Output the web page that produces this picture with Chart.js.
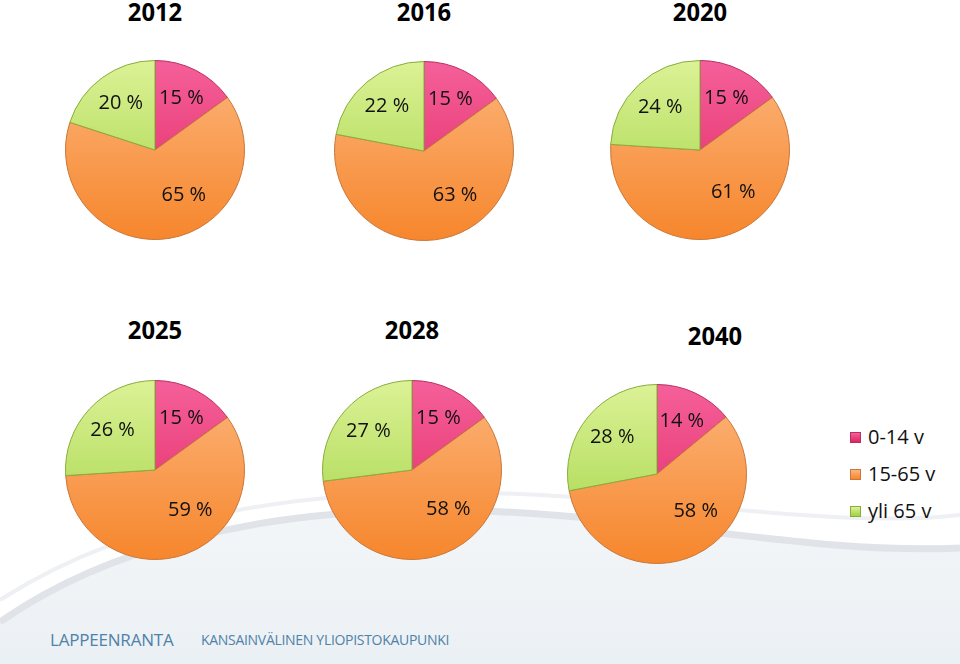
<!DOCTYPE html>
<html>
<head>
<meta charset="utf-8">
<script src="https://cdn.jsdelivr.net/npm/chart.js@4.4.1/dist/chart.umd.min.js"></script>
<style>
  body { margin: 0; width: 960px; height: 664px; overflow: hidden; background: #fff; position: relative; font-family: "Open Sans", sans-serif; }
  .bg { position: absolute; left: 0; top: 0; }
  .pie { position: absolute; width: 200px; height: 200px; }
  .year { position: absolute; width: 120px; margin-left: -60px; text-align: center; font-weight: 700; font-size: 25px; line-height: 25px; color: #000; transform: scaleX(0.95); }
  .legend { position: absolute; left: 850px; top: 423px; }
  .legend div { height: 37px; line-height: 28px; font-size: 20px; color: #111; white-space: nowrap; }
  .legend span { display: inline-block; width: 11px; height: 11px; margin-right: 7px; vertical-align: 1px; }
  .footer { position: absolute; top: 628px; color: #4f82a8; white-space: nowrap; }
</style>
</head>
<body>
<svg class="bg" width="960" height="664">
  <defs>
    <linearGradient id="band" x1="0" y1="0" x2="0" y2="1">
      <stop offset="0" stop-color="#f3f6f8"/>
      <stop offset="1" stop-color="#ebf0f4"/>
    </linearGradient>
  </defs>
  <path d="M0,622 C110,545 260,512 420,510 C620,508 800,556 960,548 L960,664 L0,664 Z" fill="url(#band)"/>
  <path d="M0,622 C110,545 260,512 420,510 C620,508 800,556 960,548" fill="none" stroke="#e0e4e8" stroke-width="7"/>
  <path d="M0,600 C140,510 320,486 520,494 C700,502 850,528 960,515" fill="none" stroke="#eef0f3" stroke-width="4"/>
</svg>

<div id="holder"></div>
<div class="legend" id="legend"></div>
<div class="footer" style="left:50px;font-size:17px;letter-spacing:-0.2px;">LAPPEENRANTA</div>
<div class="footer" style="left:201px;font-size:14px;top:630px;letter-spacing:-0.3px;">KANSAINVÄLINEN YLIOPISTOKAUPUNKI</div>

<script>
// data
const years = ['2012', '2016', '2020', '2025', '2028', '2040'];
const groups = ['0-14 v', '15-65 v', 'yli 65 v'];
const children = [15, 15, 15, 15, 15, 14];
const working = [65, 63, 61, 59, 58, 58];
const elderly = [20, 22, 24, 26, 27, 28];

// layout
const pieCenters = [[155, 150], [424, 151], [700, 150], [155, 470], [412, 470], [657, 474]];
const titleTops = [[155, -1], [424, -1], [700, -1], [155, 317], [412, 317], [715, 323]];

// top/bottom shades per slice colour
const shades = [
  ['#f5609a', '#e0245f'],
  ['#fcb57c', '#f6862c'],
  ['#dcf296', '#9fd243']
];
const edges = ['#b8305f', '#c9773a', '#87ad3c'];

const holder = document.getElementById('holder');

// puts "NN %" inside each slice; the big slice label leans toward its start like the original
const labelPlugin = {
  id: 'sliceLabels',
  afterDatasetsDraw(chart) {
    const ctx = chart.ctx;
    const meta = chart.getDatasetMeta(0);
    const data = chart.data.datasets[0].data;
    ctx.save();
    ctx.font = '20px "Open Sans", sans-serif';
    ctx.fillStyle = '#111';
    ctx.textAlign = 'center';
    ctx.textBaseline = 'middle';
    meta.data.forEach((arc, i) => {
      const p = arc.getProps(['x', 'y', 'startAngle', 'endAngle', 'outerRadius'], true);
      const sweep = p.endAngle - p.startAngle;
      let mid = (p.startAngle + p.endAngle) / 2;
      let r = p.outerRadius * 0.65;
      if (sweep > Math.PI) {
        mid -= sweep * 0.1;
        r = p.outerRadius * 0.6;
      }
      ctx.fillText(data[i] + ' %', p.x + Math.cos(mid) * r, p.y + Math.sin(mid) * r);
    });
    ctx.restore();
  }
};

years.forEach((year, i) => {
  const t = document.createElement('div');
  t.className = 'year';
  t.textContent = year;
  t.style.left = titleTops[i][0] + 'px';
  t.style.top = titleTops[i][1] + 'px';
  holder.appendChild(t);

  const box = document.createElement('div');
  box.className = 'pie';
  box.style.left = (pieCenters[i][0] - 100) + 'px';
  box.style.top = (pieCenters[i][1] - 100) + 'px';
  const canvas = document.createElement('canvas');
  box.appendChild(canvas);
  holder.appendChild(box);

  new Chart(canvas, {
    type: 'pie',
    data: {
      labels: groups,
      datasets: [{
        data: [children[i], working[i], elderly[i]],
        backgroundColor: (c) => {
          const area = c.chart.chartArea;
          if (!area) return shades[c.dataIndex][1];
          const g = c.chart.ctx.createLinearGradient(0, area.top, 0, area.bottom);
          g.addColorStop(0, shades[c.dataIndex][0]);
          g.addColorStop(1, shades[c.dataIndex][1]);
          return g;
        },
        borderColor: edges,
        borderWidth: 1
      }]
    },
    options: {
      responsive: true,
      maintainAspectRatio: false,
      animation: false,
      layout: { padding: 10 },
      plugins: {
        legend: { display: false },
        tooltip: { enabled: false }
      }
    },
    plugins: [labelPlugin]
  });
});

// legend
const legend = document.getElementById('legend');
groups.forEach((g, i) => {
  const row = document.createElement('div');
  row.innerHTML = '<span style="background:linear-gradient(' + shades[i][0] + ',' + shades[i][1] + ');border:1px solid ' + edges[i] + ';box-sizing:border-box"></span>' + g;
  legend.appendChild(row);
});
</script>
</body>
</html>
